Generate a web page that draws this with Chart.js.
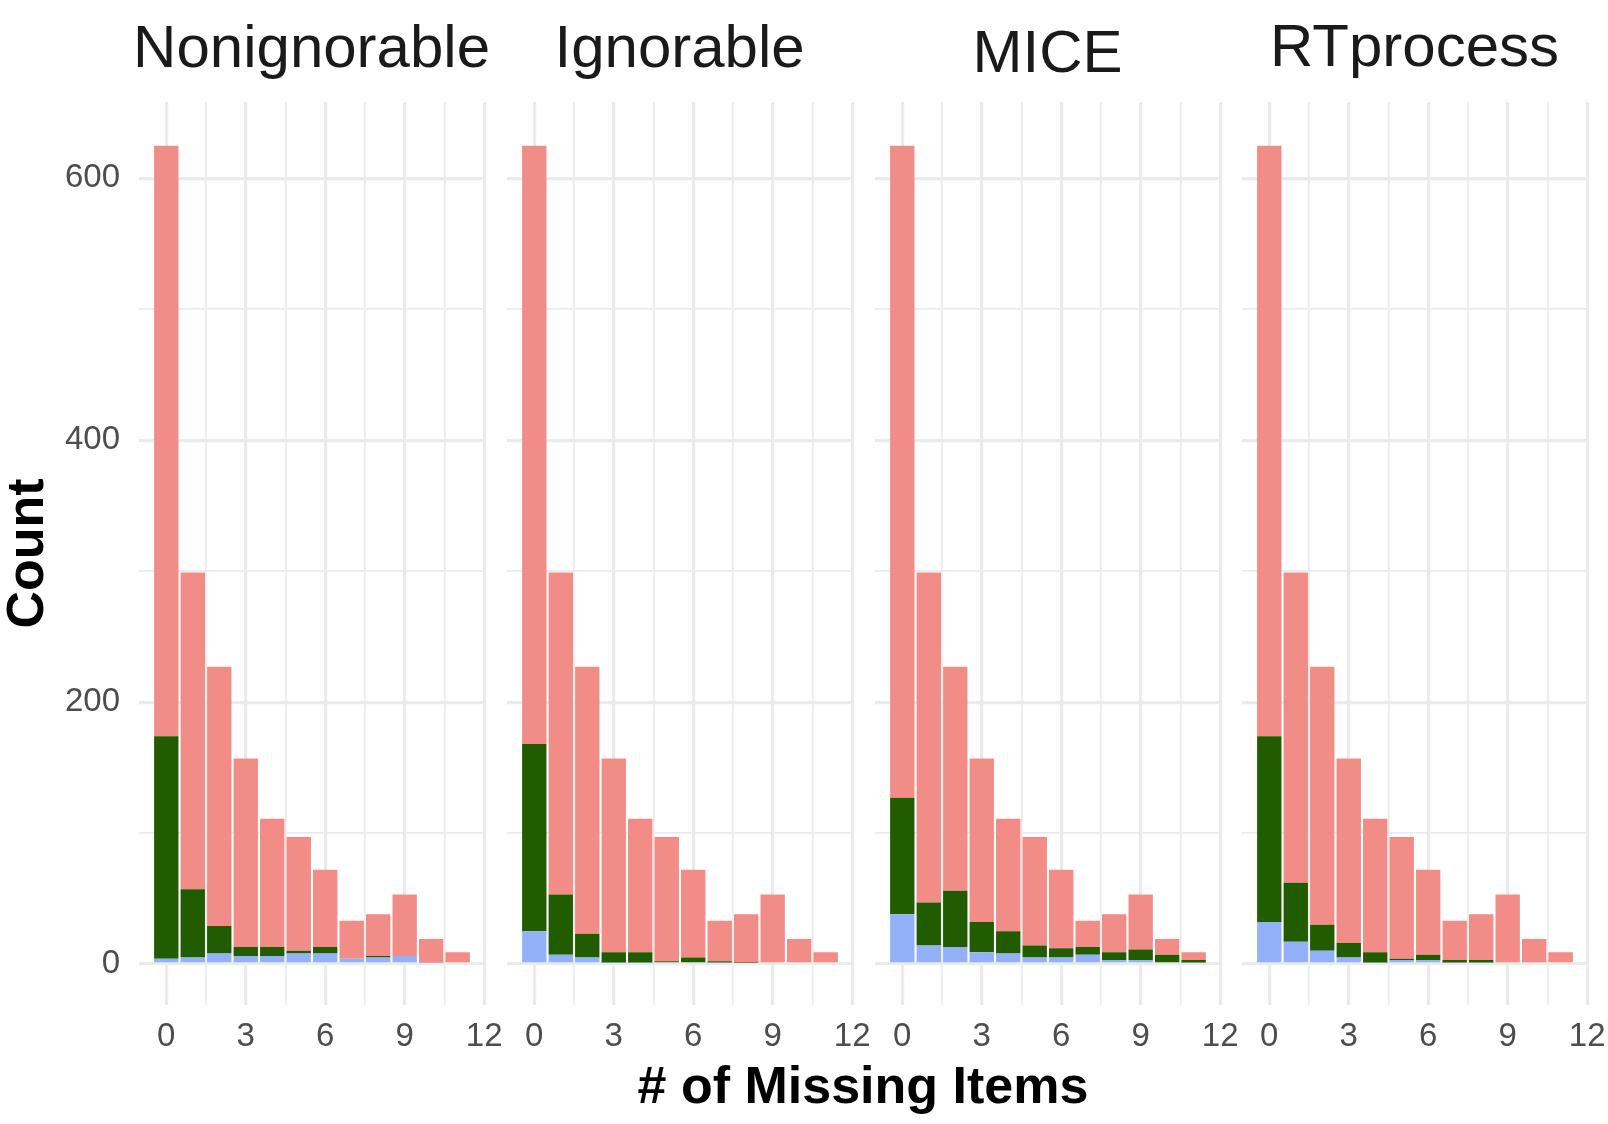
<!DOCTYPE html>
<html lang="en">
<head>
<meta charset="UTF-8">
<title>Missing items by imputation method</title>
<script src="https://cdn.jsdelivr.net/npm/chart.js"></script>
<style>
  body { margin: 0; background: #fff; }
  #wrap {
    position: relative;
    width: 1608px;
    height: 1124px;
    overflow: hidden;
    background: #fff;
    font-family: "Liberation Sans", Arial, sans-serif;
  }
  canvas { position: absolute; top: 0; }
  #xtitle {
    position: absolute;
    left: 863px;
    top: 1059px;
    transform: translateX(-50%);
    font-weight: bold;
    font-size: 52px;
    line-height: 52px;
    white-space: nowrap;
    color: #000;
  }
</style>
</head>
<body>
<div id="wrap">
  <canvas id="p0" width="515" height="1124" style="left:0px"></canvas>
  <canvas id="p1" width="376" height="1124" style="left:507px"></canvas>
  <canvas id="p2" width="376" height="1124" style="left:875px"></canvas>
  <canvas id="p3" width="376" height="1124" style="left:1242px"></canvas>
  <div id="xtitle"># of Missing Items</div>
</div>

<script>
// number of missing items (bin centres)
const missingItems = [0, 1, 2, 3, 4, 5, 6, 7, 8, 9, 10, 11];
const panelNames = ["Nonignorable", "Ignorable", "MICE", "RTprocess"];

// stacked counts per bin, bottom to top: blue, green, red
const nonignorableBlue  = [4, 5, 8, 6, 6, 8, 8, 4, 5, 6, 1, 0];
const nonignorableGreen = [170, 52, 21, 7, 7, 2, 5, 0, 1, 0, 0, 0];
const nonignorableRed   = [451, 242, 198, 144, 98, 87, 59, 29, 32, 47, 18, 9];

const ignorableBlue  = [25, 7, 5, 1, 1, 0, 0, 1, 0, 0, 0, 0];
const ignorableGreen = [143, 46, 18, 8, 8, 2, 5, 1, 1, 0, 0, 0];
const ignorableRed   = [457, 246, 204, 148, 102, 95, 67, 31, 37, 53, 19, 9];

const miceBlue  = [38, 14, 13, 9, 8, 5, 5, 7, 3, 3, 0, 1];
const miceGreen = [89, 33, 43, 23, 17, 9, 7, 6, 6, 8, 7, 2];
const miceRed   = [498, 252, 171, 125, 86, 83, 60, 20, 29, 42, 12, 6];

const rtBlue  = [32, 17, 10, 5, 1, 3, 3, 1, 1, 0, 0, 0];
const rtGreen = [142, 45, 20, 11, 8, 1, 4, 2, 2, 0, 0, 0];
const rtRed   = [451, 237, 197, 141, 102, 93, 65, 30, 35, 53, 19, 9];

// axis ticks
const yGridTicks  = [0, 100, 200, 300, 400, 500, 600];
const yLabelTicks = [0, 200, 400, 600];
const xGridTicks  = [0, 1.5, 3, 4.5, 6, 7.5, 9, 10.5, 12];
const xLabelTicks = [0, 3, 6, 9, 12];

const panelSeries = [
  [nonignorableBlue, nonignorableGreen, nonignorableRed],
  [ignorableBlue, ignorableGreen, ignorableRed],
  [miceBlue, miceGreen, miceRed],
  [rtBlue, rtGreen, rtRed]
];
const fillColors = ["#92B1F9", "#225C00", "#F28C86"];
const gridColor = "#EBEBEB";

Chart.defaults.font.family = '"Liberation Sans", Arial, sans-serif';

function toPoints(values) {
  return missingItems.map((x, i) => ({ x: x, y: values[i] }));
}

// facet strip title, ink centred above the panel
function titlePlugin(text) {
  return {
    id: "panelTitle",
    afterDraw(chart) {
      const ctx = chart.ctx;
      const area = chart.chartArea;
      ctx.save();
      ctx.font = '60px "Liberation Sans", Arial, sans-serif';
      ctx.fillStyle = "#1A1A1A";
      ctx.textAlign = "center";
      ctx.textBaseline = "alphabetic";
      const m = ctx.measureText(text);
      const y = 51.5 + (m.actualBoundingBoxAscent - m.actualBoundingBoxDescent) / 2;
      ctx.fillText(text, (area.left + area.right) / 2, y);
      ctx.restore();
    }
  };
}

function makePanel(p) {
  const first = p === 0;
  const series = panelSeries[p];
  return new Chart(document.getElementById("p" + p), {
    type: "bar",
    data: {
      datasets: series.map((vals, k) => ({
        data: toPoints(vals),
        backgroundColor: fillColors[k],
        borderWidth: 0,
        barPercentage: 0.92,
        categoryPercentage: 1
      }))
    },
    options: {
      responsive: false,
      animation: false,
      layout: { padding: { top: 102, right: 30, bottom: 0, left: 0 } },
      plugins: {
        legend: { display: false },
        tooltip: { enabled: false }
      },
      scales: {
        x: {
          type: "linear",
          stacked: true,
          min: -1.03,
          max: 12,
          offset: false,
          border: { display: false },
          afterBuildTicks: (s) => { s.ticks = xGridTicks.map(v => ({ value: v })); },
          afterFit: (s) => { s.height = 119; },
          grid: {
            offset: false,
            color: gridColor,
            drawTicks: false,
            lineWidth: (c) => (c.tick && xLabelTicks.includes(c.tick.value)) ? 3.2 : 1.7
          },
          ticks: {
            autoSkip: false,
            maxRotation: 0,
            padding: 12.5,
            color: "#4D4D4D",
            font: { size: 33 },
            callback: (v) => xLabelTicks.includes(v) ? String(v) : ""
          }
        },
        y: {
          stacked: true,
          min: -31.35,
          max: 658.35,
          border: { display: false },
          afterBuildTicks: (s) => { s.ticks = yGridTicks.map(v => ({ value: v })); },
          afterFit: (s) => { s.width = first ? 139 : 0; },
          grid: {
            color: gridColor,
            drawTicks: false,
            lineWidth: (c) => (c.tick && yLabelTicks.includes(c.tick.value)) ? 3.2 : 1.7
          },
          ticks: {
            display: first,
            autoSkip: false,
            padding: 19,
            color: "#4D4D4D",
            font: { size: 33 },
            callback: (v) => yLabelTicks.includes(v) ? String(v) : ""
          },
          title: {
            display: first,
            text: "Count",
            color: "#000",
            padding: 0,
            font: { size: 52, weight: "bold", lineHeight: 1.1 }
          }
        }
      }
    },
    plugins: [titlePlugin(panelNames[p])]
  });
}

panelNames.forEach((name, p) => makePanel(p));
</script>
</body>
</html>
